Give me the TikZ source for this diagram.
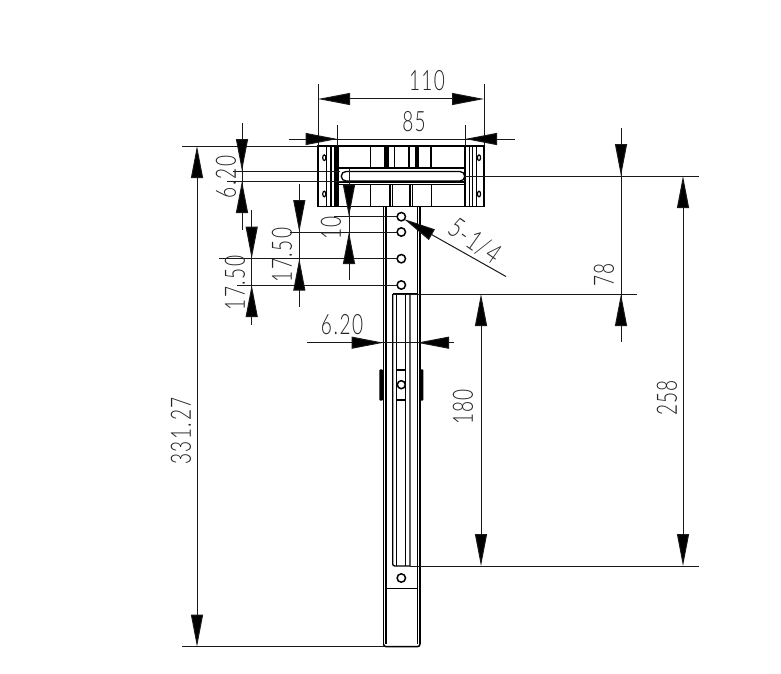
\documentclass[tikz,border=0pt]{standalone}
\usepackage{fontspec}
\setmainfont[LetterSpace=7]{Lato Light}
\usetikzlibrary{arrows.meta}
\newcommand{\dotk}{\kern2.5pt.\kern2.5pt}
\tikzset{
  part/.style={line width=1.3pt,black},
  heavy/.style={line width=2.2pt,black},
  dimline/.style={line width=1pt,black!90,arrows={-}},
  tip/.style={-{Triangle[length=32pt,width=12pt,fill=black]}},
  tips/.style={{Triangle[length=32pt,width=12pt,fill=black]}-{Triangle[length=32pt,width=12pt,fill=black]}},
  dimtext/.style={inner sep=0pt,font=\fontsize{28}{28}\selectfont,xscale=0.68,text=black!85},
  vdimtext/.style={inner sep=0pt,font=\fontsize{28}{28}\selectfont,rotate=90,xscale=0.68,text=black!85},
  hole/.style={line width=1.5pt,black}
}
\begin{document}
\begin{tikzpicture}[x=1pt,y=-1pt]
\useasboundingbox (0,0) rectangle (781,674);
\fill[white] (0,0) rectangle (781,674);
% top plate
\draw[part] (318,146) rectangle (484,206.5);
\foreach \x in {326.7,331,335,469.5,472.7,476.6} \draw[part] (\x,146) -- (\x,206.5);
\draw[heavy] (337.5,146) -- (337.5,206.5);
\draw[heavy] (465,146) -- (465,206.5);
\foreach \x in {324.3,479} \foreach \y in {157.7,194} \draw[hole,line width=1.2pt] (\x,\y) ellipse (1.6pt and 2.8pt);
% ribs
\foreach \x in {370.7,394.3,409,431} \draw[part] (\x,146) -- (\x,167.7);
\fill (384,146) rectangle (388.5,167.7);
\fill (414.5,146) rectangle (418.5,167.7);
\foreach \x in {370.7,390,392.7,410,412.7,431.5} \draw[part] (\x,184) -- (\x,206.5);
% slot
\draw[heavy] (337.5,167.7) -- (465,167.7);
\draw[heavy] (337.5,182) -- (465,182);
\draw[part] (337.5,184.5) -- (465,184.5);
\draw[part] (346,171.5) -- (460,171.5) arc (90:-90:4.75pt) -- (346,181) arc (270:90:4.75pt);
% shaft
\foreach \x in {383.5,386,417.5,420} \draw[part,line width=1.5pt] (\x,206.5) -- (\x,644);
\draw[part,line width=1.5pt] (383.5,644) arc (180:270:2.7pt) -- (417.3,646.7) arc (270:360:2.7pt);
\draw[part] (386,588.7) -- (417.5,588.7);
\foreach \y in {216.7,232,258.7,285,578} \draw[hole] (401.3,\y) circle (4.2pt);
% long slot
\draw[part] (392.7,294) -- (392.7,564) arc (180:270:2pt) -- (410,566) -- (410,294);
\draw[part] (392.7,294) -- (416.7,294);
\foreach \x in {396.5,405.5} \draw[part] (\x,294) -- (\x,566);
% tabs and slider
\fill[rounded corners=1pt] (379.3,369.3) rectangle (383,400.7);
\fill[rounded corners=1pt] (420,369.3) rectangle (423.3,400.7);
\fill[white] (397,370) rectangle (405.5,400);
\draw[part] (396.5,370) rectangle (405.5,400);
\draw[hole,fill=white] (401.3,384.7) circle (4pt);
% extension lines
\foreach \x in {318,484} \draw[dimline] (\x,84) -- (\x,146);
\foreach \x in {337.5,465} \draw[dimline] (\x,125) -- (\x,146);
\draw[dimline] (182,146) -- (318,146);
\draw[dimline] (233,171) -- (340,171);
\draw[dimline] (227,181) -- (345,181);
\draw[dimline] (182,646.7) -- (383.5,646.7);
\draw[dimline] (465,176) -- (699,176);
\draw[dimline] (410,566) -- (699,566);
\draw[dimline] (392.7,294) -- (637,294);
\draw[dimline] (334,216.7) -- (397,216.7);
\draw[dimline] (290,232) -- (397,232);
\draw[dimline] (219,258.7) -- (397,258.7);
\draw[dimline] (237,285) -- (397,285);
% continuous dimension lines
\draw[dimline] (289,139) -- (515,139);
\draw[dimline] (242,123) -- (242,230);
\draw[dimline] (299.3,184) -- (299.3,306.7);
\draw[dimline] (251.7,210) -- (251.7,325);
\draw[dimline] (349,168.7) -- (349,280);
\draw[dimline] (621,128) -- (621,342);
\draw[dimline] (307,342.7) -- (454,342.7);
% arrowheads
\draw[dimline,tips] (318,99) -- (484,99);
\draw[dimline,tip] (300,139) -- (337.5,139);
\draw[dimline,tip] (505,139) -- (465,139);
\draw[dimline,tip] (242,130) -- (242,171);
\draw[dimline,tip] (242,225) -- (242,181);
\draw[dimline,tips] (197,146) -- (197,646.7);
\draw[dimline,tip] (299.3,190) -- (299.3,232);
\draw[dimline,tip] (299.3,300) -- (299.3,258.7);
\draw[dimline,tip] (251.7,216) -- (251.7,258.7);
\draw[dimline,tip] (251.7,320) -- (251.7,285);
\draw[dimline,tip] (349,175) -- (349,216.7);
\draw[dimline,tip] (349,275) -- (349,232);
\draw[dimline,tip] (621,135) -- (621,176);
\draw[dimline,tip] (621,335) -- (621,294);
\draw[dimline,tips] (481,294) -- (481,566);
\draw[dimline,tips] (683,176) -- (683,566);
\draw[dimline,tip] (340,342.7) -- (383.5,342.7);
\draw[dimline,tip] (450,342.7) -- (417,342.7);
\draw[dimline,tip] (506,276.5) -- (404,219);
% labels
\node[dimtext] (d110) at (427,81) {110};
\node[dimtext] (d85) at (414,122) {85};
\node[dimtext] (d620b) at (342,325) {6\dotk 20};
\node[vdimtext] (d620a) at (226,177) {6\dotk 20};
\node[vdimtext] (d10) at (331,228) {10};
\node[vdimtext] (d1750a) at (282,255) {17\dotk 50};
\node[vdimtext] (d1750b) at (235,283) {17\dotk 50};
\node[vdimtext] (d33127) at (181,431) {331\dotk 27};
\node[vdimtext] (d180) at (463,407) {180};
\node[vdimtext] (d258) at (667,398) {258};
\node[vdimtext] (d78) at (604,275) {78};
\node[inner sep=0pt,font=\fontsize{28}{28}\selectfont,rotate=-35,xscale=0.72,text=black!85] (d514) at (475,241) {5-1/4};
\end{tikzpicture}
\end{document}
